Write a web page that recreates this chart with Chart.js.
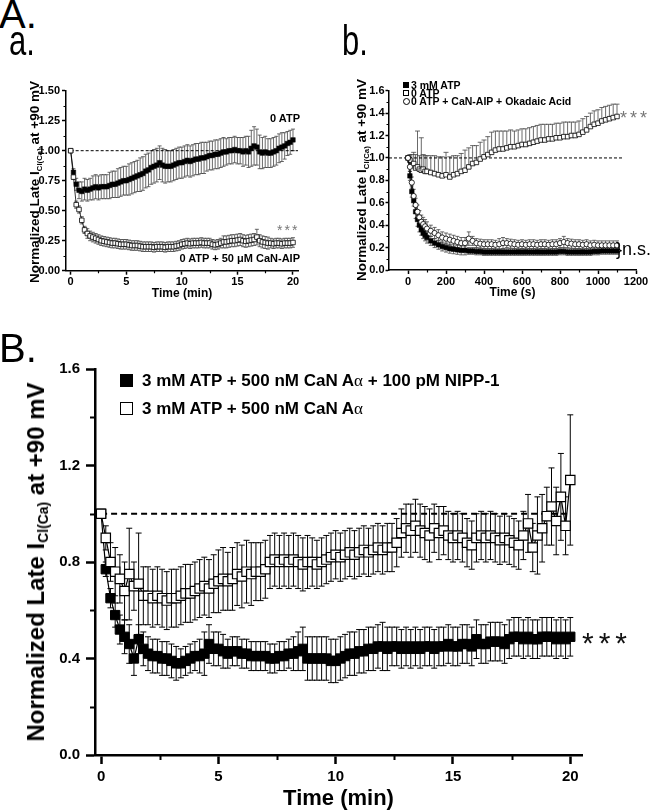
<!DOCTYPE html>
<html><head><meta charset="utf-8">
<script src="https://cdn.jsdelivr.net/npm/chart.js@4.4.1/dist/chart.umd.min.js"></script>
<style>
html,body{margin:0;padding:0;background:#fff;}
body{width:656px;height:812px;position:relative;overflow:hidden;font-family:"Liberation Sans",Arial,sans-serif;color:#000;}
canvas{position:absolute;}
.t{position:absolute;white-space:nowrap;line-height:1;}
.b{font-weight:bold;}
.yt{position:absolute;white-space:nowrap;line-height:1;font-weight:bold;transform:translate(-50%,-50%) rotate(-90deg);}
.yt sub{font-size:0.58em;vertical-align:-0.3em;line-height:0;}
.sym{position:absolute;box-sizing:border-box;}
</style></head><body>
<canvas id="ca" width="330" height="250" style="left:0;top:60px;width:330px;height:250px"></canvas>
<canvas id="cb" width="326" height="250" style="left:330px;top:60px;width:326px;height:250px"></canvas>
<canvas id="cB" width="656" height="482" style="left:0;top:330px;width:656px;height:482px"></canvas>

<div class="t" style="left:-1px;top:-6px;font-size:40px;">A.</div>
<div class="t" style="left:9px;top:30.7px;font-size:31px;transform:scaleY(1.4);transform-origin:left bottom;">a.</div>
<div class="t" style="left:342px;top:30.7px;font-size:31px;transform:scaleY(1.4);transform-origin:left bottom;">b.</div>
<div class="t" style="left:-1px;top:328px;font-size:40px;">B.</div>

<div class="yt" style="left:35px;top:182px;font-size:13.5px;">Normalized Late I<sub>Cl(Ca)</sub> at +90 mV</div>
<div class="yt" style="left:362px;top:180px;font-size:13.5px;">Normalized Late I<sub>Cl(Ca)</sub> at +90 mV</div>
<div class="yt" style="left:36px;top:562px;font-size:24px;">Normalized Late I<sub>Cl(Ca)</sub> at +90 mV</div>

<div class="t b" style="right:356px;top:113px;font-size:11px;">0 ATP</div>
<div class="t b" style="right:356px;top:252.5px;font-size:11px;">0 ATP + 50 μM CaN-AIP</div>
<div class="t" style="left:277px;top:223px;font-size:14px;color:#777;letter-spacing:2px;">***</div>

<div class="sym" style="left:403px;top:82px;width:6px;height:6px;background:#000;"></div>
<div class="sym" style="left:403px;top:90.3px;width:6px;height:6px;border:1px solid #000;background:#fff;"></div>
<div class="sym" style="left:402.5px;top:97.5px;width:7px;height:7px;border:1px solid #000;border-radius:50%;background:#fff;"></div>
<div class="t b" style="left:411px;top:80px;font-size:10.5px;">3 mM ATP</div>
<div class="t b" style="left:411px;top:88.2px;font-size:10.5px;">0 ATP</div>
<div class="t b" style="left:411px;top:96px;font-size:10.5px;">0 ATP + CaN-AIP + Okadaic Acid</div>
<div class="t" style="left:620px;top:109px;font-size:18px;color:#777;letter-spacing:3px;">***</div>
<div class="t" style="left:616px;top:239.5px;font-size:18px;">}n.s.</div>

<div class="sym" style="left:120px;top:374px;width:13px;height:13px;background:#000;"></div>
<div class="sym" style="left:120px;top:402px;width:13px;height:13px;border:1.5px solid #000;background:#fff;"></div>
<div class="t b" style="left:142px;top:371.7px;font-size:17px;">3 mM ATP + 500 nM CaN A<span style="font-family:'Liberation Serif',serif;font-weight:normal;">α</span> + 100 pM NIPP-1</div>
<div class="t b" style="left:142px;top:399.7px;font-size:17px;">3 mM ATP + 500 nM CaN A<span style="font-family:'Liberation Serif',serif;font-weight:normal;">α</span></div>
<div class="t" style="left:582px;top:628px;font-size:30px;color:#111;letter-spacing:5px;">***</div>

<script>
// ---------------- Panel A.a data (time in min) ----------------
const timeAa = [0,0.25,0.5,0.75,1,1.25,1.5,1.75,2,2.25,2.5,2.75,3,3.25,3.5,3.75,4,4.25,4.5,4.75,5,5.25,5.5,5.75,6,6.25,6.5,6.75,7,7.25,7.5,7.75,8,8.25,8.5,8.75,9,9.25,9.5,9.75,10,10.25,10.5,10.75,11,11.25,11.5,11.75,12,12.25,12.5,12.75,13,13.25,13.5,13.75,14,14.25,14.5,14.75,15,15.25,15.5,15.75,16,16.25,16.5,16.75,17,17.25,17.5,17.75,18,18.25,18.5,18.75,19,19.25,19.5,19.75,20];
const atp0Mean = [1.00,0.82,0.72,0.67,0.66,0.68,0.67,0.68,0.69,0.70,
  0.69,0.70,0.70,0.70,0.71,0.72,0.72,0.73,0.74,0.75,
  0.75,0.76,0.77,0.78,0.79,0.80,0.81,0.83,0.84,0.86,
  0.87,0.88,0.90,0.88,0.87,0.87,0.87,0.88,0.89,0.90,
  0.90,0.91,0.92,0.91,0.92,0.93,0.93,0.94,0.94,0.95,
  0.96,0.96,0.97,0.97,0.98,0.99,0.99,1.00,1.00,1.01,
  1.00,1.00,0.99,1.00,0.99,1.02,1.04,1.03,0.99,0.98,
  0.99,0.98,0.98,0.99,1.00,1.02,1.03,1.04,1.06,1.07,
  1.09];
const atp0Err = [0,0.03,0.05,0.07,0.08,0.09,0.09,0.09,0.10,0.10,
  0.10,0.10,0.10,0.10,0.11,0.11,0.11,0.12,0.12,0.12,
  0.12,0.13,0.13,0.13,0.13,0.14,0.14,0.14,0.14,0.14,
  0.14,0.14,0.14,0.14,0.14,0.13,0.13,0.13,0.13,0.13,
  0.13,0.13,0.13,0.13,0.13,0.13,0.13,0.13,0.13,0.12,
  0.12,0.12,0.12,0.12,0.12,0.12,0.11,0.11,0.11,0.11,
  0.11,0.11,0.12,0.12,0.13,0.15,0.16,0.15,0.14,0.13,
  0.13,0.12,0.12,0.12,0.12,0.12,0.12,0.11,0.10,0.10,
  0.09];
const aipMean = [1.00,0.78,0.55,0.51,0.42,0.34,0.31,0.29,0.28,0.27,
  0.26,0.25,0.245,0.24,0.235,0.23,0.23,0.225,0.22,0.22,
  0.22,0.215,0.21,0.21,0.21,0.205,0.20,0.20,0.20,0.20,
  0.195,0.20,0.20,0.20,0.195,0.20,0.20,0.20,0.205,0.21,
  0.22,0.225,0.23,0.225,0.23,0.23,0.23,0.235,0.23,0.23,
  0.23,0.22,0.215,0.22,0.23,0.24,0.24,0.245,0.25,0.25,
  0.255,0.26,0.25,0.245,0.25,0.255,0.26,0.28,0.25,0.24,
  0.235,0.23,0.23,0.225,0.23,0.23,0.225,0.23,0.23,0.23,
  0.235];
const aipErr = [0,0.02,0.03,0.03,0.03,0.03,0.04,0.04,0.04,0.04,
  0.04,0.04,0.04,0.04,0.04,0.04,0.04,0.04,0.04,0.04,
  0.04,0.04,0.04,0.04,0.04,0.04,0.04,0.04,0.04,0.04,
  0.04,0.04,0.04,0.04,0.04,0.04,0.04,0.04,0.04,0.04,
  0.04,0.04,0.04,0.04,0.04,0.04,0.04,0.04,0.04,0.04,
  0.04,0.04,0.04,0.04,0.04,0.05,0.05,0.05,0.05,0.05,
  0.05,0.05,0.05,0.05,0.05,0.05,0.05,0.065,0.05,0.05,
  0.05,0.05,0.04,0.04,0.04,0.04,0.04,0.04,0.04,0.04,
  0.04];
const refAaX = [0, 20.45];
const xTicksAa = [0,5,10,15,20];
const xLabelsAa = ['0','5','10','15','20'];
const xMinorAa = [2.5,7.5,12.5,17.5];
const yTicksAa = [0,0.25,0.5,0.75,1,1.25,1.5];
const yLabelsAa = ['0.00','0.25','0.50','0.75','1.00','1.25','1.50'];
const yMinorAa = [0.125,0.375,0.625,0.875,1.125,1.375];

// ---------------- Panel A.b data (time in s) ----------------
const timeAb = [0,10,20,30,40,50,60,70,80,90,100,120,140,160,180,200,220,240,260,280,300,320,340,360,380,400,420,440,460,480,500,520,540,560,580,600,620,640,660,680,700,720,740,760,780,800,820,840,860,880,900,920,940,960,980,1000,1020,1040,1060,1080,1100];
const mM3Mean = [1.00,0.84,0.70,0.62,0.52,0.45,0.40,0.36,0.33,0.31,0.29,
  0.26,0.24,0.225,0.21,0.20,0.19,0.185,0.18,0.175,0.175,
  0.17,0.17,0.165,0.165,0.16,0.16,0.16,0.16,0.16,0.16,
  0.16,0.16,0.16,0.16,0.16,0.16,0.16,0.16,0.16,0.16,
  0.16,0.16,0.16,0.16,0.165,0.165,0.16,0.16,0.16,0.16,
  0.16,0.16,0.16,0.165,0.165,0.17,0.17,0.17,0.17,0.17];
const mM3Err = [0,0.04,0.05,0.05,0.06,0.06,0.06,0.05,0.05,0.05,0.05,
  0.04,0.04,0.04,0.04,0.04,0.04,0.04,0.04,0.04,0.04,
  0.03,0.03,0.03,0.03,0.03,0.03,0.03,0.03,0.03,0.03,
  0.03,0.03,0.03,0.03,0.03,0.03,0.03,0.03,0.03,0.03,
  0.03,0.03,0.03,0.03,0.03,0.03,0.03,0.03,0.03,0.03,
  0.03,0.03,0.03,0.03,0.03,0.03,0.03,0.03,0.03,0.03];
const noAtpMean = [1.00,0.98,0.93,0.95,0.91,0.92,0.90,0.89,0.90,0.88,0.88,
  0.87,0.86,0.85,0.84,0.85,0.83,0.85,0.86,0.88,0.89,
  0.92,0.95,0.96,0.99,1.01,1.03,1.05,1.07,1.08,1.08,
  1.09,1.10,1.10,1.11,1.12,1.12,1.13,1.14,1.15,1.16,
  1.16,1.17,1.17,1.18,1.18,1.19,1.19,1.20,1.20,1.21,
  1.23,1.25,1.28,1.30,1.31,1.33,1.34,1.35,1.36,1.37];
const noAtpErr = [0,0.05,0.10,0.10,0.12,0.32,0.12,0.29,0.13,0.14,0.14,
  0.15,0.16,0.16,0.17,0.20,0.18,0.17,0.16,0.16,0.18,
  0.17,0.16,0.15,0.15,0.15,0.16,0.18,0.17,0.16,0.16,
  0.15,0.15,0.14,0.14,0.14,0.14,0.14,0.14,0.14,0.14,
  0.14,0.13,0.13,0.13,0.13,0.13,0.13,0.12,0.12,0.12,
  0.12,0.12,0.12,0.12,0.12,0.12,0.12,0.12,0.12,0.11];
const okaMean = [1.00,0.92,0.78,0.66,0.58,0.52,0.47,0.43,0.41,0.39,0.37,
  0.35,0.33,0.31,0.29,0.28,0.27,0.26,0.25,0.24,0.24,
  0.28,0.26,0.24,0.235,0.23,0.23,0.23,0.225,0.23,0.24,
  0.24,0.235,0.23,0.225,0.23,0.225,0.23,0.23,0.225,0.23,
  0.23,0.225,0.23,0.23,0.24,0.25,0.24,0.235,0.23,0.23,
  0.225,0.23,0.22,0.225,0.22,0.22,0.22,0.22,0.22,0.22];
const okaErr = [0,0.04,0.05,0.06,0.06,0.06,0.06,0.06,0.06,0.06,0.06,
  0.05,0.05,0.05,0.05,0.05,0.05,0.05,0.05,0.05,0.05,
  0.06,0.04,0.04,0.04,0.04,0.04,0.04,0.04,0.05,0.05,
  0.04,0.04,0.04,0.04,0.04,0.04,0.04,0.04,0.04,0.04,
  0.04,0.04,0.04,0.04,0.04,0.05,0.04,0.04,0.04,0.04,
  0.04,0.04,0.04,0.04,0.04,0.04,0.04,0.04,0.04,0.04];
const refAbX = [-100, 1130];
const xTicksAb = [0,200,400,600,800,1000,1200];
const xLabelsAb = ['0','200','400','600','800','1000','1200'];
const xMinorAb = [100,300,500,700,900,1100];
const yTicksAb = [0,0.2,0.4,0.6,0.8,1.0,1.2,1.4,1.6];
const yLabelsAb = ['0.0','0.2','0.4','0.6','0.8','1.0','1.2','1.4','1.6'];
const yMinorAb = [0.1,0.3,0.5,0.7,0.9,1.1,1.3,1.5];

// ---------------- Panel B data (time in min) ----------------
const timeB = [0,0.2,0.4,0.6,0.8,1,1.2,1.4,1.6,1.8,2,2.2,2.4,2.6,2.8,3,3.2,3.4,3.6,3.8,4,4.2,4.4,4.6,4.8,5,5.2,5.4,5.6,5.8,6,6.2,6.4,6.6,6.8,7,7.2,7.4,7.6,7.8,8,8.2,8.4,8.6,8.8,9,9.2,9.4,9.6,9.8,10,10.2,10.4,10.6,10.8,11,11.2,11.4,11.6,11.8,12,12.2,12.4,12.6,12.8,13,13.2,13.4,13.6,13.8,14,14.2,14.4,14.6,14.8,15,15.2,15.4,15.6,15.8,16,16.2,16.4,16.6,16.8,17,17.2,17.4,17.6,17.8,18,18.2,18.4,18.6,18.8,19,19.2,19.4,19.6,19.8,20];
const nippMean = [1.00,0.77,0.65,0.58,0.52,0.49,0.46,0.40,0.48,0.44,
  0.42,0.41,0.41,0.40,0.40,0.39,0.38,0.38,0.39,0.40,
  0.41,0.41,0.42,0.46,0.44,0.44,0.43,0.42,0.43,0.43,
  0.42,0.42,0.41,0.41,0.41,0.41,0.40,0.40,0.41,0.41,
  0.42,0.42,0.43,0.44,0.40,0.40,0.40,0.40,0.40,0.39,
  0.39,0.40,0.41,0.42,0.42,0.43,0.43,0.44,0.44,0.45,
  0.45,0.44,0.45,0.45,0.44,0.45,0.44,0.45,0.44,0.45,
  0.45,0.44,0.45,0.45,0.46,0.45,0.45,0.46,0.46,0.45,
  0.48,0.46,0.46,0.47,0.47,0.47,0.46,0.48,0.49,0.49,
  0.48,0.49,0.48,0.48,0.49,0.49,0.49,0.48,0.49,0.48,
  0.49];
const nippErr = [0,0.03,0.04,0.05,0.06,0.07,0.08,0.07,0.06,0.07,
  0.07,0.07,0.07,0.07,0.07,0.07,0.07,0.06,0.06,0.06,
  0.06,0.07,0.09,0.08,0.07,0.07,0.07,0.06,0.06,0.06,
  0.06,0.06,0.06,0.06,0.06,0.06,0.06,0.06,0.06,0.06,
  0.06,0.07,0.08,0.09,0.09,0.09,0.09,0.09,0.09,0.09,
  0.09,0.09,0.09,0.09,0.09,0.09,0.09,0.09,0.09,0.09,
  0.10,0.09,0.08,0.08,0.08,0.08,0.08,0.08,0.08,0.08,
  0.08,0.08,0.08,0.08,0.08,0.08,0.08,0.08,0.08,0.08,
  0.08,0.08,0.08,0.08,0.08,0.08,0.08,0.08,0.08,0.08,
  0.08,0.08,0.08,0.08,0.08,0.08,0.08,0.08,0.08,0.08,
  0.08];
const canMean = [1.00,0.90,0.80,0.76,0.73,0.68,0.75,0.70,0.71,0.66,
  0.66,0.65,0.66,0.65,0.64,0.65,0.65,0.66,0.67,0.67,
  0.68,0.69,0.70,0.69,0.71,0.72,0.73,0.72,0.73,0.75,
  0.74,0.76,0.75,0.76,0.76,0.77,0.80,0.81,0.80,0.81,
  0.80,0.81,0.80,0.79,0.80,0.80,0.79,0.80,0.81,0.82,
  0.83,0.82,0.83,0.84,0.83,0.84,0.85,0.84,0.85,0.86,
  0.85,0.86,0.86,0.88,0.92,0.94,0.93,0.95,0.93,0.92,
  0.91,0.94,0.92,0.93,0.91,0.90,0.91,0.90,0.88,0.87,
  0.90,0.91,0.90,0.91,0.90,0.89,0.90,0.89,0.88,0.87,
  0.91,0.96,0.86,0.91,0.94,0.99,1.03,0.97,1.07,0.95,
  1.14];
const canErr = [0,0.05,0.08,0.10,0.10,0.12,0.19,0.10,0.21,0.12,
  0.12,0.12,0.12,0.12,0.12,0.12,0.12,0.12,0.12,0.12,
  0.12,0.12,0.12,0.12,0.12,0.13,0.13,0.12,0.13,0.13,
  0.13,0.13,0.13,0.12,0.12,0.12,0.11,0.11,0.11,0.11,
  0.11,0.11,0.11,0.11,0.11,0.10,0.10,0.10,0.10,0.10,
  0.10,0.10,0.10,0.10,0.10,0.10,0.10,0.10,0.10,0.10,
  0.10,0.10,0.10,0.10,0.10,0.10,0.11,0.11,0.11,0.11,
  0.11,0.10,0.11,0.10,0.10,0.10,0.10,0.10,0.10,0.10,
  0.10,0.10,0.10,0.10,0.10,0.10,0.10,0.10,0.10,0.10,
  0.10,0.12,0.10,0.16,0.14,0.12,0.16,0.14,0.18,0.12,
  0.27];
const refBX = [0, 20];
const refY = [1, 1];
const xTicksB = [0,5,10,15,20];
const xLabelsB = ['0','5','10','15','20'];
const xMinorB = [2.5,7.5,12.5,17.5];
const yTicksB = [0,0.4,0.8,1.2,1.6];
const yLabelsB = ['0.0','0.4','0.8','1.2','1.6'];
const yMinorB = [0.2,0.6,1.0,1.4];

// ---------------- helpers ----------------
const FF = "'Liberation Sans', Arial, sans-serif";

const errorBars = {
  id: 'errorBars',
  beforeDatasetsDraw(chart) {
    const ctx = chart.ctx, xs = chart.scales.x, ys = chart.scales.y;
    chart.data.datasets.forEach(ds => {
      if (!ds.errs) return;
      ctx.save();
      ctx.strokeStyle = ds.errColor;
      ctx.lineWidth = ds.errWidth;
      ctx.beginPath();
      ds.data.forEach((p, j) => {
        const e = ds.errs[j];
        if (!e) return;
        const px = xs.getPixelForValue(p.x);
        const up = ds.errDir !== 'down', dn = ds.errDir !== 'up';
        const yT = ys.getPixelForValue(up ? p.y + e : p.y);
        const yB = ys.getPixelForValue(dn ? p.y - e : p.y);
        ctx.moveTo(px, yT); ctx.lineTo(px, yB);
        if (up) { ctx.moveTo(px - ds.cap, yT); ctx.lineTo(px + ds.cap, yT); }
        if (dn) { ctx.moveTo(px - ds.cap, yB); ctx.lineTo(px + ds.cap, yB); }
      });
      ctx.stroke();
      ctx.restore();
    });
  }
};

function minorTicks(xv, yv, len, width) {
  return {
    id: 'minorTicks',
    afterDraw(chart) {
      const ctx = chart.ctx, xs = chart.scales.x, ys = chart.scales.y;
      ctx.save();
      ctx.strokeStyle = '#000';
      ctx.lineWidth = width;
      ctx.beginPath();
      xv.forEach(v => { const p = Math.round(xs.getPixelForValue(v)) + 0.5; ctx.moveTo(p, xs.top); ctx.lineTo(p, xs.top + len); });
      yv.forEach(v => { const p = Math.round(ys.getPixelForValue(v)) + 0.5; ctx.moveTo(ys.right, p); ctx.lineTo(ys.right - len, p); });
      ctx.stroke();
      ctx.restore();
    }
  };
}

function axis(o) {
  return {
    type: 'linear', min: o.min, max: o.max,
    afterBuildTicks: s => { s.ticks = o.ticks.map(v => ({ value: v })); },
    afterFit: s => { if (o.w !== undefined) s.width = o.w; if (o.h !== undefined) s.height = o.h; },
    ticks: { autoSkip: false, maxRotation: 0, minRotation: 0, color: '#000', padding: o.pad,
             font: { family: FF, size: o.fs, weight: 'bold' }, callback: (v, i) => o.labels[i] },
    grid: { display: true, drawOnChartArea: false, drawTicks: true, tickLength: o.tl, tickColor: '#000', tickWidth: o.bw, color: '#000' },
    border: { display: true, color: '#000', width: o.bw },
    title: o.title ? { display: true, text: o.title, color: '#000',
             font: { family: FF, size: o.tfs, weight: 'bold', lineHeight: o.tlh || 1.2 }, padding: { top: 0, bottom: o.tpb } } : { display: false }
  };
}

function pts(xs, ys) { return xs.map((x, i) => ({ x: x, y: ys[i] })); }

function make(id, datasets, xo, yo, pad, minor) {
  return new Chart(document.getElementById(id), {
    type: 'scatter',
    data: { datasets: datasets },
    options: {
      responsive: false, animation: false, devicePixelRatio: 1, events: [],
      layout: { padding: pad },
      plugins: { legend: { display: false }, tooltip: { enabled: false } },
      scales: { x: axis(xo), y: axis(yo) }
    },
    plugins: [errorBars, minor]
  });
}

// ---------------- Panel A.a ----------------
make('ca', [
  { data: pts(timeAa, aipMean), errs: aipErr, errDir: 'both', errColor: '#444', errWidth: 0.8, cap: 2,
    showLine: true, borderColor: '#000', borderWidth: 0.8, pointStyle: 'rect', pointRadius: 3.2,
    pointBackgroundColor: '#fff', pointBorderColor: '#000', pointBorderWidth: 0.8, clip: false },
  { data: pts(timeAa, atp0Mean), errs: atp0Err, errDir: 'both', errColor: '#444', errWidth: 0.8, cap: 2,
    showLine: true, borderColor: '#000', borderWidth: 0.8, pointStyle: 'rect', pointRadius: 3.2,
    pointBackgroundColor: '#000', pointBorderColor: '#000', pointBorderWidth: 0.5, clip: false },
  { data: pts(refAaX, refY), showLine: true, borderColor: '#000', borderWidth: 1, borderDash: [3, 2], pointRadius: 0, clip: false }
],
{ min: -0.42, max: 20.45, ticks: xTicksAa, labels: xLabelsAa, fs: 11, pad: 0.5, tl: 4, bw: 1.5, h: 39.3,
  title: 'Time (min)', tfs: 12, tpb: 8.8 },
{ min: 0, max: 1.5, ticks: yTicksAa, labels: yLabelsAa, fs: 11, pad: 2, tl: 4, bw: 1.5, w: 60 },
{ left: 6, right: 32, top: 30.7, bottom: 0 },
minorTicks(xMinorAa, yMinorAa, 2.5, 1.2));

// ---------------- Panel A.b ----------------
make('cb', [
  { data: pts(timeAb, okaMean), errs: okaErr, errDir: 'both', errColor: '#444', errWidth: 0.8, cap: 2,
    showLine: true, borderColor: '#000', borderWidth: 0.8, pointStyle: 'circle', pointRadius: 2.6,
    pointBackgroundColor: '#fff', pointBorderColor: '#000', pointBorderWidth: 0.8, clip: false },
  { data: pts(timeAb, mM3Mean), errs: mM3Err, errDir: 'both', errColor: '#444', errWidth: 0.8, cap: 2,
    showLine: true, borderColor: '#000', borderWidth: 0.8, pointStyle: 'rect', pointRadius: 3.2,
    pointBackgroundColor: '#000', pointBorderColor: '#000', pointBorderWidth: 0.5, clip: false },
  { data: pts(timeAb, noAtpMean), errs: noAtpErr, errDir: 'up', errColor: '#444', errWidth: 0.8, cap: 2.5,
    showLine: true, borderColor: '#000', borderWidth: 0.8, pointStyle: 'rect', pointRadius: 3.2,
    pointBackgroundColor: '#fff', pointBorderColor: '#000', pointBorderWidth: 0.8, clip: false },
  { data: pts(refAbX, refY), showLine: true, borderColor: '#000', borderWidth: 1, borderDash: [3, 2], pointRadius: 0, clip: false }
],
{ min: -100, max: 1200, ticks: xTicksAb, labels: xLabelsAb, fs: 11, pad: 1, tl: 4, bw: 1.5, h: 40,
  title: 'Time (s)', tfs: 12, tpb: 9.8 },
{ min: 0, max: 1.6, ticks: yTicksAb, labels: yLabelsAb, fs: 11, pad: 1, tl: 3.5, bw: 1.5, w: 59 },
{ left: 0, right: 20, top: 30.7, bottom: 0 },
minorTicks(xMinorAb, yMinorAb, 2.5, 1.2));

// ---------------- Panel B ----------------
make('cB', [
  { data: pts(timeB, canMean), errs: canErr, errDir: 'both', errColor: '#000', errWidth: 1, cap: 3,
    showLine: true, borderColor: '#000', borderWidth: 1.2, pointStyle: 'rect', pointRadius: 6.6,
    pointBackgroundColor: '#fff', pointBorderColor: '#000', pointBorderWidth: 1.2, clip: false },
  { data: pts(timeB, nippMean), errs: nippErr, errDir: 'both', errColor: '#000', errWidth: 1, cap: 3,
    showLine: true, borderColor: '#000', borderWidth: 1.2, pointStyle: 'rect', pointRadius: 6.6,
    pointBackgroundColor: '#000', pointBorderColor: '#000', pointBorderWidth: 1, clip: false },
  { data: pts(refBX, refY), showLine: true, borderColor: '#000', borderWidth: 2, borderDash: [6, 4], pointRadius: 0, clip: false }
],
{ min: -0.26, max: 20.5, ticks: xTicksB, labels: xLabelsB, fs: 15, pad: 4, tl: 9, bw: 2.5, h: 57,
  title: 'Time (min)', tfs: 22, tlh: 1.0, tpb: 2 },
{ min: 0, max: 1.6, ticks: yTicksB, labels: yLabelsB, fs: 15, pad: 6, tl: 9, bw: 2.5, w: 90 },
{ left: 5, right: 74, top: 39, bottom: 0 },
minorTicks(xMinorB, yMinorB, 5, 2));
</script>
</body></html>
